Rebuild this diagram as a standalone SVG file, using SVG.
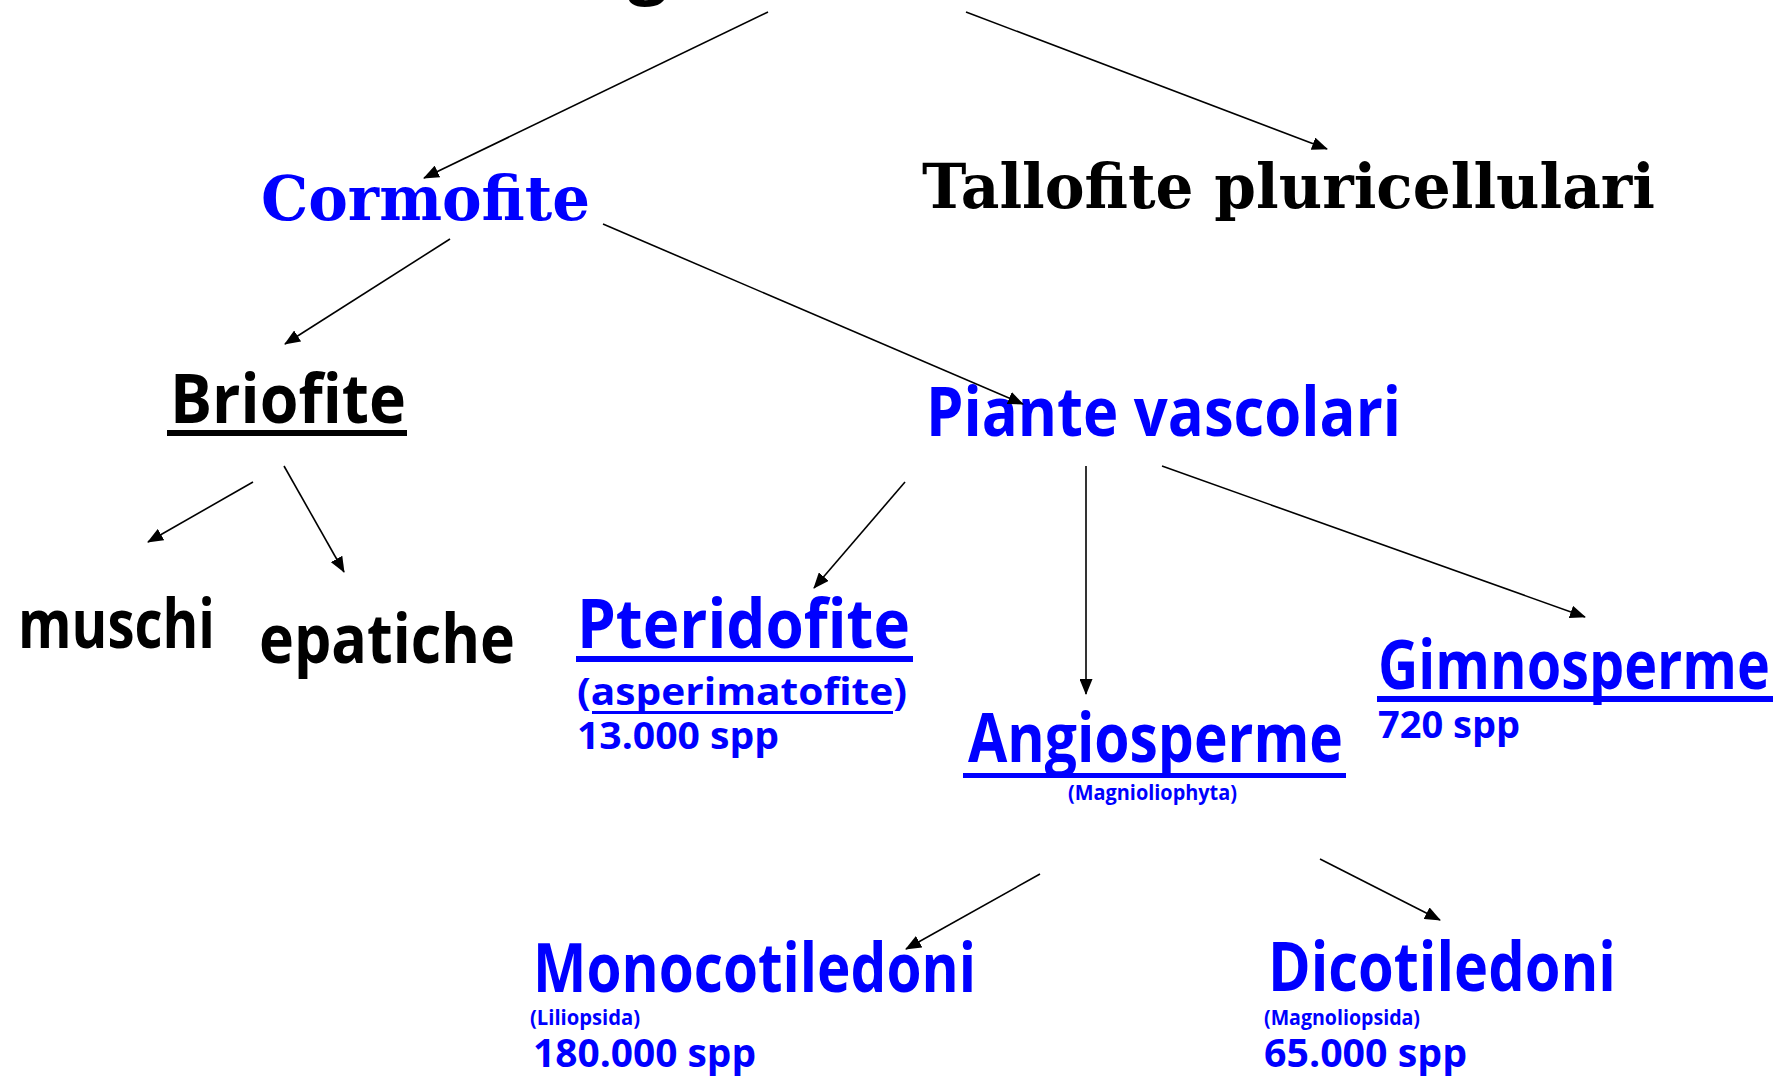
<svg xmlns="http://www.w3.org/2000/svg" width="1789" height="1076" viewBox="0 0 1789 1076">
<style>
.slab{font-family:"DejaVu Serif","Liberation Serif",serif;font-weight:bold;}
.cm{font-family:"Open Sans","Noto Sans","Liberation Sans",sans-serif;font-weight:bold;}
.blue{fill:#0000FF;}
.black{fill:#000000;}
.big{font-size:68px;}
.mid{font-size:38px;}
.small{font-size:22px;}
.conn line{stroke:#000;stroke-width:1.6;fill:none;marker-end:url(#ah);}
</style>
<defs>
<marker id="ah" markerUnits="userSpaceOnUse" markerWidth="16" markerHeight="13" refX="15" refY="6.5" orient="auto">
<path d="M0,0 L16,6.5 L0,13 z" fill="#000"/>
</marker>
</defs>
<rect width="1789" height="1076" fill="#fff"/>
<g id="root"><text class="cm black" x="628" y="-10" font-size="70">g</text></g>
<g id="cormofite"><text class="slab blue" x="261" y="220" font-size="62" textLength="329" lengthAdjust="spacingAndGlyphs">Cormofite</text></g>
<g id="tallofite"><text class="slab black" x="922" y="208" font-size="61" textLength="733" lengthAdjust="spacingAndGlyphs">Tallofite pluricellulari</text></g>
<g id="briofite"><text class="cm black big" x="170" y="423" textLength="236" lengthAdjust="spacingAndGlyphs">Briofite</text><rect x="167" y="430" width="240" height="6" fill="#000"/></g>
<g id="muschi"><text class="cm black big" x="18" y="648" textLength="197" lengthAdjust="spacingAndGlyphs">muschi</text></g>
<g id="epatiche"><text class="cm black big" x="259" y="663" textLength="256" lengthAdjust="spacingAndGlyphs">epatiche</text></g>
<g id="piante"><text class="cm blue big" x="926" y="436" textLength="475" lengthAdjust="spacingAndGlyphs">Piante vascolari</text></g>
<g id="pteridofite">
<text class="cm blue big" x="577" y="648" textLength="333" lengthAdjust="spacingAndGlyphs">Pteridofite</text>
<rect x="576" y="656" width="337" height="6" fill="#0000FF"/>
<text class="cm blue mid" x="577" y="705" textLength="330" lengthAdjust="spacingAndGlyphs">(asperimatofite)</text>
<rect x="592" y="711" width="301" height="3" fill="#0000FF"/>
<text class="cm blue mid" x="577" y="749" textLength="202" lengthAdjust="spacingAndGlyphs">13.000 spp</text>
</g>
<g id="angiosperme">
<text class="cm blue big" x="968" y="762" textLength="375" lengthAdjust="spacingAndGlyphs">Angiosperme</text>
<rect x="963" y="773" width="383" height="5" fill="#0000FF"/>
<text class="cm blue small" x="1068" y="800" textLength="169" lengthAdjust="spacingAndGlyphs">(Magnioliophyta)</text>
</g>
<g id="gimnosperme">
<text class="cm blue big" x="1378" y="689" textLength="392" lengthAdjust="spacingAndGlyphs">Gimnosperme</text>
<rect x="1377" y="696" width="396" height="6" fill="#0000FF"/>
<text class="cm blue mid" x="1378" y="738" textLength="142" lengthAdjust="spacingAndGlyphs">720 spp</text>
</g>
<g id="monocotiledoni">
<text class="cm blue big" x="533" y="992" textLength="443" lengthAdjust="spacingAndGlyphs">Monocotiledoni</text>
<text class="cm blue small" x="530" y="1025" textLength="110" lengthAdjust="spacingAndGlyphs">(Liliopsida)</text>
<text class="cm blue" x="533" y="1067" font-size="40" textLength="223" lengthAdjust="spacingAndGlyphs">180.000 spp</text>
</g>
<g id="dicotiledoni">
<text class="cm blue big" x="1268" y="991" textLength="348" lengthAdjust="spacingAndGlyphs">Dicotiledoni</text>
<text class="cm blue small" x="1264" y="1025" textLength="156" lengthAdjust="spacingAndGlyphs">(Magnoliopsida)</text>
<text class="cm blue" x="1264" y="1067" font-size="40" textLength="203" lengthAdjust="spacingAndGlyphs">65.000 spp</text>
</g>
<g id="connectors" class="conn">
<line x1="768" y1="12" x2="424" y2="178"/>
<line x1="966" y1="12" x2="1327" y2="149"/>
<line x1="450" y1="239" x2="285" y2="344"/>
<line x1="603" y1="224" x2="1023" y2="404"/>
<line x1="253" y1="482" x2="148" y2="542"/>
<line x1="284" y1="466" x2="344" y2="572"/>
<line x1="905" y1="482" x2="814" y2="588"/>
<line x1="1086" y1="466" x2="1086" y2="694"/>
<line x1="1162" y1="466" x2="1585" y2="617"/>
<line x1="1040" y1="874" x2="906" y2="949"/>
<line x1="1320" y1="859" x2="1440" y2="920"/>
</g>
</svg>
